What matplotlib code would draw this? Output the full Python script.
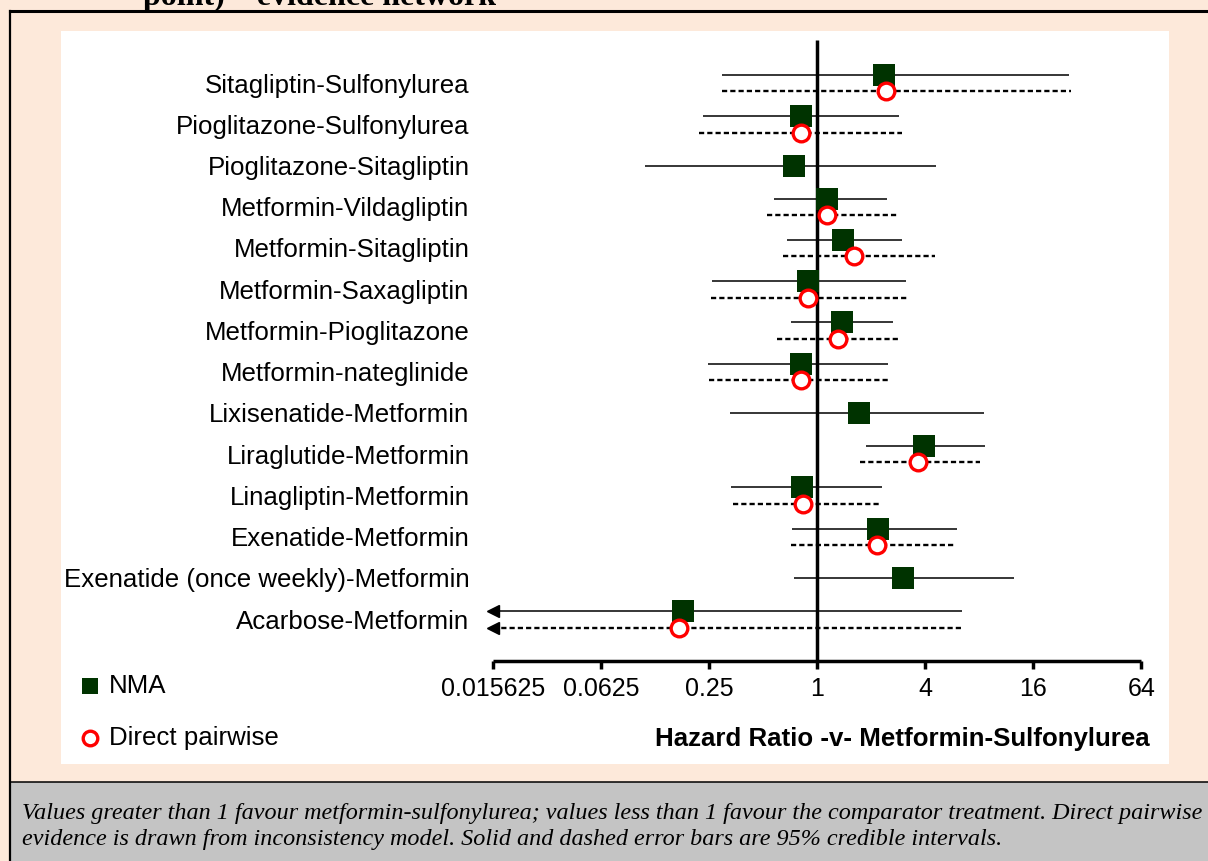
import matplotlib
matplotlib.use("Agg")
import matplotlib.pyplot as plt
import numpy as np
from matplotlib.patches import Rectangle

# comparisons, top to bottom
labels = [
    "Sitagliptin-Sulfonylurea",
    "Pioglitazone-Sulfonylurea",
    "Pioglitazone-Sitagliptin",
    "Metformin-Vildagliptin",
    "Metformin-Sitagliptin",
    "Metformin-Saxagliptin",
    "Metformin-Pioglitazone",
    "Metformin-nateglinide",
    "Lixisenatide-Metformin",
    "Liraglutide-Metformin",
    "Linagliptin-Metformin",
    "Exenatide-Metformin",
    "Exenatide (once weekly)-Metformin",
    "Acarbose-Metformin",
]

# NMA hazard ratios and 95% CrI
nma_hr = [2.36, 0.81, 0.745, 1.14, 1.40, 0.89, 1.38, 0.815, 1.71, 3.93, 0.825, 2.18, 3.00, 0.179]
nma_lo = [0.296, 0.233, 0.110, 0.576, 0.683, 0.261, 0.716, 0.248, 0.328, 1.875, 0.33, 0.73, 0.745, 0.008]
nma_hi = [25.3, 2.87, 4.6, 2.45, 2.98, 3.13, 2.66, 2.49, 8.5, 8.58, 2.30, 6.0, 12.5, 6.4]

# direct pairwise (None = no direct evidence)
dir_hr = [2.42, 0.815, None, 1.14, 1.61, 0.89, 1.31, 0.815, None, 3.64, 0.84, 2.15, None, 0.17]
dir_lo = [0.296, 0.221, None, 0.525, 0.65, 0.257, 0.596, 0.25, None, 1.74, 0.34, 0.716, None, 0.008]
dir_hi = [26.0, 2.98, None, 2.78, 4.56, 3.18, 2.85, 2.5, None, 8.12, 2.22, 5.82, None, 6.4]

xticks = [2.0 ** k for k in range(-6, 7, 2)]
xtick_labels = ["0.015625", "0.0625", "0.25", "1", "4", "16", "64"]

PEACH = "#FDE9DA"
GREEN = "#003300"
GREY = "#C4C4C4"
W, H = 1208, 861

plt.rcParams["font.family"] = ["Liberation Sans", "DejaVu Sans"]

fig = plt.figure(figsize=(W / 100, H / 100), dpi=100, facecolor=PEACH)

# background layer in pixel coordinates
bg = fig.add_axes([0, 0, 1, 1], zorder=0)
bg.set_xlim(0, W)
bg.set_ylim(H, 0)
bg.axis("off")
bg.add_patch(Rectangle((61, 31), 1169 - 61, 764 - 31, facecolor="white", edgecolor="none"))
bg.add_patch(Rectangle((11, 782), W - 11, H - 782, facecolor=GREY, edgecolor="none"))
bg.plot([10, W], [11, 11], color="black", lw=2.2)
bg.plot([10, 10], [11, H], color="black", lw=1.6)
bg.plot([10, W], [782, 782], color="black", lw=1.1)

# title is cut at the top edge, as in the original page crop
fig.text(320 / W, 1 - 5 / H, "point) \u2013 evidence network", ha="center", va="baseline",
         fontsize=23, fontweight="bold", family="Liberation Serif")

# main forest plot axes
unit = 54.05
row = 41.25
ax_l = 817 - 6.1 * unit
ax_r = 817 + 6.1 * unit
ax_t = 83 - 1.25 * row
ax_b = 83 + 14 * row
ax = fig.add_axes([ax_l / W, 1 - ax_b / H, (ax_r - ax_l) / W, (ax_b - ax_t) / H], zorder=2)
ax.set_facecolor("none")
ax.set_xscale("log", base=2)
xmin, xmax = 2.0 ** -6.1, 2.0 ** 6.1
ax.set_xlim(xmin, xmax)
ax.set_ylim(14, -1.25)

ax.plot([1, 1], [-1.05, 14], color="black", lw=2.5, zorder=2, solid_capstyle="butt")

off = 0.2
for i in range(len(labels)):
    has_dir = dir_hr[i] is not None
    y_n = i - off if has_dir else i
    lo = max(nma_lo[i], 2.0 ** -6)
    ax.plot([lo, nma_hi[i]], [y_n, y_n], color="black", lw=1.1, zorder=1, solid_capstyle="butt")
    if nma_lo[i] < 2.0 ** -6:
        ax.plot(lo, y_n, marker="<", color="black", ms=9, zorder=3, clip_on=False)
    ax.plot(nma_hr[i], y_n, marker="s", color=GREEN, ms=15.8, mew=0, ls="none", zorder=4)
    if has_dir:
        y_d = i + off
        lo = max(dir_lo[i], 2.0 ** -6)
        ax.plot([lo, dir_hi[i]], [y_d, y_d], color="black", lw=1.7, ls=(0, (2.2, 1.3)), zorder=1)
        if dir_lo[i] < 2.0 ** -6:
            ax.plot(lo, y_d, marker="<", color="black", ms=9, zorder=3, clip_on=False)
        ax.plot(dir_hr[i], y_d, marker="o", mfc="white", mec="red", ms=12, mew=2.4,
                ls="none", zorder=5)

for s in ["top", "right", "left"]:
    ax.spines[s].set_visible(False)
ax.spines["bottom"].set_linewidth(2.5)
ax.spines["bottom"].set_bounds(2.0 ** -6, 2.0 ** 6)
ax.spines["bottom"].set_capstyle("butt")
ax.set_xticks(xticks)
ax.set_xticklabels(xtick_labels, fontsize=18)
ax.xaxis.set_minor_locator(matplotlib.ticker.NullLocator())
ax.tick_params(axis="x", direction="out", length=6, width=2.5, pad=6)
ax.set_yticks(range(len(labels)))
ax.set_yticklabels(labels, fontsize=18.6)
ax.tick_params(axis="y", length=0, pad=12.8)

fig.text(1150 / W, 1 - 739 / H, "Hazard Ratio -v- Metformin-Sulfonylurea", ha="right",
         va="center", fontsize=18.6, fontweight="bold")

# legend
bg.plot(90, 686, marker="s", color=GREEN, ms=11.5, mew=0, zorder=3)
bg.text(109, 686, "NMA", fontsize=18.6, va="center", ha="left")
bg.plot(89.5, 738, marker="o", mfc="white", mec="red", ms=10.5, mew=2.4, zorder=3)
bg.text(109, 738, "Direct pairwise", fontsize=18.6, va="center", ha="left")

# caption
cap1 = ("Values greater than 1 favour metformin-sulfonylurea; values less than 1 favour "
        "the comparator treatment. Direct pairwise")
cap2 = "evidence is drawn from inconsistency model. Solid and dashed error bars are 95% credible intervals."
bg.text(22, 813, cap1, fontsize=17.4, style="italic", family="Liberation Serif", va="center")
bg.text(22, 839, cap2, fontsize=17.4, style="italic", family="Liberation Serif", va="center")

fig.savefig("out.png", dpi=100, facecolor=PEACH)
